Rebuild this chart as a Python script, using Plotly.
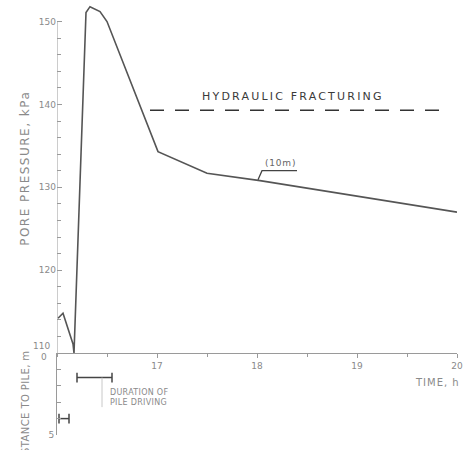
import plotly.graph_objects as go

# Pore pressure record (time in h, pressure in kPa)
time_h = [16.01, 16.06, 16.16, 16.17, 16.29, 16.33, 16.43, 16.50, 17.01, 17.50, 18.03, 19.06, 20.00]
pressure_kpa = [114.2, 114.8, 111.1, 110.0, 151.1, 151.8, 151.2, 150.0, 134.3, 131.7, 130.8, 128.8, 127.0]

# Hydraulic fracturing level
frac_time = [16.93, 19.91]
frac_level = [139.3, 139.3]

# Piezometer label leader "(10m)"
leader_time = [18.01, 18.05, 18.40]
leader_p = [130.9, 132.0, 132.0]

# Pile driving duration bars (time, distance to pile in m)
drive_time = [16.20, 16.55]
drive_dist = [1.5, 1.5]
drive2_time = [16.02, 16.12]
drive2_dist = [4.0, 4.0]
drive_leader_time = [16.45, 16.45]
drive_leader_dist = [1.5, 3.3]

p_ticks = [110, 120, 130, 140, 150]
p_labels = ["", "120", "130", "140", "150"]
p_minor = list(range(110, 151, 2))
t_ticks = [17, 18, 19, 20]
d_ticks = [0, 5]
d_labels = ["", "5"]

LINE = "#555555"
AX = "#9a9a9a"
TXT = "#8a8a8a"
FONT = "DejaVu Sans"


def spaced(s, px):
    return f'<span style="letter-spacing:{px}px">{s}</span>'


fig = go.Figure()
fig.add_trace(go.Scatter(x=time_h, y=pressure_kpa, mode="lines",
                         line=dict(color=LINE, width=1.6),
                         xaxis="x", yaxis="y"))
fig.add_trace(go.Scatter(x=frac_time, y=frac_level, mode="lines",
                         line=dict(color="#333333", width=1.6, dash="14px,11px"),
                         xaxis="x", yaxis="y"))
fig.add_trace(go.Scatter(x=leader_time, y=leader_p, mode="lines",
                         line=dict(color="#444444", width=1.3),
                         xaxis="x", yaxis="y"))
for tx, dy in [(drive_time, drive_dist), (drive2_time, drive2_dist)]:
    fig.add_trace(go.Scatter(x=tx, y=dy, mode="lines+markers",
                             line=dict(color="#444444", width=1.5),
                             marker=dict(symbol="line-ns-open", size=7,
                                         line=dict(color="#444444", width=1.5)),
                             cliponaxis=False, xaxis="x", yaxis="y2"))
fig.add_trace(go.Scatter(x=drive_leader_time, y=drive_leader_dist, mode="lines",
                         line=dict(color="#c8c8c8", width=1),
                         xaxis="x", yaxis="y2"))

fig.update_layout(
    width=472, height=450,
    margin=dict(l=57, r=15, t=5, b=15),
    paper_bgcolor="white", plot_bgcolor="white",
    showlegend=False,
    font=dict(family=FONT, color=TXT, size=9),
    xaxis=dict(range=[16, 20], anchor="y", showgrid=False, zeroline=False,
               showline=True, linecolor=AX, linewidth=1,
               tickvals=t_ticks, ticks="outside", ticklen=4, tickcolor=AX,
               minor=dict(dtick=0.5, ticks="outside", ticklen=3, tickcolor=AX),
               tickfont=dict(size=9, color=TXT)),
    yaxis=dict(range=[110, 152], domain=[0.1907, 1], showgrid=False, zeroline=False,
               showline=False,
               tickvals=p_ticks, ticktext=p_labels, ticks="inside", ticklen=5, tickcolor=AX,
               minor=dict(tickvals=p_minor, ticks="inside", ticklen=4, tickcolor=AX),
               tickfont=dict(size=9, color=TXT)),
    yaxis2=dict(range=[5, 0], domain=[0, 0.1907], anchor="x", showgrid=False,
                zeroline=False, showline=True, linecolor=AX, linewidth=1,
                tickvals=d_ticks, ticktext=d_labels, ticks="inside", ticklen=5, tickcolor=AX,
                minor=dict(dtick=1, ticks="inside", ticklen=4, tickcolor=AX),
                tickfont=dict(size=9, color=TXT)),
    shapes=[dict(type="line", xref="x", yref="y", x0=16, x1=16, y0=110, y1=150,
                 line=dict(color=AX, width=1))],
)

# Shifted labels at the shared origin
fig.add_annotation(text="110", x=0, y=110, xref="paper", yref="y", xanchor="right",
                   yanchor="middle", xshift=-5, yshift=7, showarrow=False,
                   font=dict(size=9, color=TXT, family=FONT))
fig.add_annotation(text="0", x=0, y=0, xref="paper", yref="y2", xanchor="right",
                   yanchor="middle", xshift=-8, yshift=-4, showarrow=False,
                   font=dict(size=9, color=TXT, family=FONT))

fig.add_annotation(text=spaced("HYDRAULIC FRACTURING", 2.2), x=18.36, y=140.9, xref="x", yref="y",
                   xanchor="center", yanchor="middle",
                   showarrow=False, font=dict(size=11, color="#3a3a3a", family=FONT))
fig.add_annotation(text=spaced("(10m)", 0.8), x=18.23, y=132.9, xref="x", yref="y",
                   showarrow=False, font=dict(size=9, color="#666666", family=FONT))
fig.add_annotation(text=spaced("DURATION OF<br>PILE DRIVING", 0.3), x=16.51, y=2.7,
                   xref="x", yref="y2",
                   xanchor="left", yanchor="middle", align="left", showarrow=False,
                   font=dict(size=8, color=TXT, family=FONT))
fig.add_annotation(text=spaced("TIME, h", 1), x=19.8, y=0.121, xref="x", yref="paper",
                   xanchor="center", yanchor="middle",
                   showarrow=False, font=dict(size=10, color=TXT, family=FONT))
fig.add_annotation(text=spaced("PORE PRESSURE, kPa", 1.5), x=-0.08, y=0.619,
                   xref="paper", yref="paper", xanchor="center", yanchor="middle",
                   textangle=-90, showarrow=False, font=dict(size=12, color=TXT, family=FONT))
fig.add_annotation(text=spaced("DISTANCE TO PILE, m", 0.4), x=-0.08, y=0.062,
                   xref="paper", yref="paper", xanchor="center", yanchor="middle",
                   textangle=-90, showarrow=False, font=dict(size=10, color=TXT, family=FONT))

fig.write_html("out.html", config={"displayModeBar": False},
               post_script="document.body.style.margin='0';")
